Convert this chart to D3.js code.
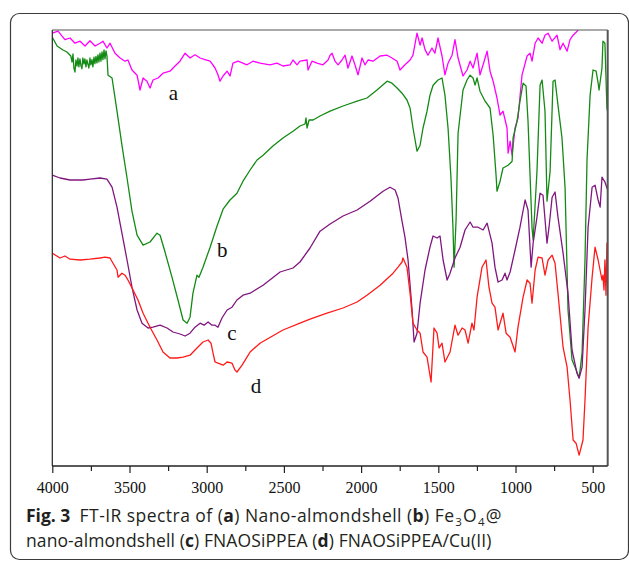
<!DOCTYPE html>
<html>
<head>
<meta charset="utf-8">
<script src="https://cdn.jsdelivr.net/npm/d3@7"></script>
<style>
  html, body { margin: 0; padding: 0; background: #fff; }
  svg { display: block; }
</style>
</head>
<body>
<svg id="chart" width="629" height="561"></svg>
<script>
// FT-IR spectra, wavenumber (cm^-1) vs. transmittance (arbitrary units, offset traces)
const xTicks = [4000, 3500, 3000, 2500, 2000, 1500, 1000, 500];
const xMinorTicks = [3750, 3250, 2750, 2250, 1750, 1250, 750];

// (a) Nano-almondshell
const seriesA = [
  [4000,108.2],[3963,108.7],[3918,106.6],[3885,107],[3853,105.7],[3820,106.2],[3788,105],[3756,106.3],
  [3723,105],[3691,105.7],[3672,106.2],[3646,104.5],[3626,105.7],[3594,103.2],[3561,102],[3529,101.2],
  [3510,101.5],[3484,99],[3451,97.7],[3432,94],[3412,97],[3387,96.2],[3367,94.5],[3348,96.5],[3315,97],
  [3283,98.2],[3238,98.7],[3205,100],[3173,101.2],[3140,103.2],[3108,102],[3076,102.8],[3043,102],
  [3011,101.6],[2978,101.2],[2946,99.5],[2927,97.8],[2914,96.2],[2894,97.5],[2868,98.7],[2849,97.5],
  [2830,100.7],[2797,101.2],[2739,100.3],[2700,101.2],[2655,100.7],[2590,100.3],[2545,100.7],[2506,100],
  [2460,100.3],[2441,101.5],[2415,100.3],[2396,101.2],[2350,101.5],[2344,99],[2318,101.2],[2286,100.7],
  [2247,100.3],[2214,101.5],[2201,102.7],[2188,103.2],[2169,101.2],[2149,100.3],[2124,101.5],[2104,102.7],
  [2085,99.5],[2059,102.5],[2040,100.3],[2020,97.8],[1994,102],[1975,100.3],[1955,101.5],[1923,101.2],
  [1877,102.5],[1832,102.7],[1800,102],[1767,101.2],[1748,99],[1716,100.3],[1683,101.5],[1664,102.7],
  [1638,108.2],[1618,105.2],[1605,107],[1586,104.1],[1567,102.7],[1541,104.5],[1522,103.2],[1502,107],
  [1476,102.5],[1457,97.8],[1437,100.7],[1411,102.7],[1392,106.6],[1372,102],[1340,97.5],[1314,99],
  [1294,101.2],[1275,99.5],[1249,103.2],[1230,97.8],[1210,100.3],[1184,103.7],[1165,98.7],[1145,96.2],
  [1120,92],[1100,87.7],[1081,88.7],[1055,84.5],[1048,78.2],[1035,81.2],[1022,77.7],[1003,84.5],
  [984,87],[958,97.7],[925,102.5],[906,103.2],[893,101.2],[873,105.7],[854,107],[828,105.7],[809,107.7],
  [789,108.2],[763,106.2],[731,107.7],[712,104.1],[692,105.7],[666,103.7],[647,106.6],[627,107.7],
  [601,108.7],[588,109.5]
];

// (b) Fe3O4@nano-almondshell
const seriesB = [
  [4000,107.2],[3969,105],[3931,104],[3905,103.5],[3885,102.7],
  [3880,102.5],[3872,101],[3866,103],[3860,99.5],[3853,98.5],[3847,101.5],[3840,100],[3834,102],
  [3828,99.8],[3821,101.8],[3815,100.2],[3808,99.3],[3802,102],[3795,100.5],[3789,101.8],[3782,99.8],
  [3776,101.5],[3769,100.4],[3763,99.5],[3756,102],[3750,100.3],[3743,101.6],[3737,99.8],[3730,102.2],
  [3724,100.6],[3717,102.4],[3711,100.8],[3704,102.8],[3698,101],[3691,103.2],[3685,101.2],[3678,103.5],
  [3672,101.6],[3665,104],[3659,101.8],[3652,103.8],[3646,102.5],[3639,97.7],[3613,97],
  [3581,88.7],[3549,80.2],[3516,72],[3484,63.7],[3451,57.7],[3412,55.2],[3367,56],[3322,58.2],
  [3302,57.7],[3270,53.5],[3225,47.2],[3186,41.5],[3153,36.5],[3127,35.7],[3108,37.2],[3089,43.2],
  [3063,47.7],[3050,47.2],[3024,49.7],[2978,54.7],[2933,60],[2894,64.2],[2849,66.5],[2804,68.2],
  [2765,71.2],[2719,74],[2674,76.5],[2635,77.7],[2571,80],[2506,82],[2441,83.7],[2396,85],[2363,85.5],
  [2357,87],[2350,84.5],[2337,86.5],[2311,86.5],[2266,87.5],[2201,88.7],[2117,90],[2026,91.2],[1962,92],
  [1897,94],[1832,96.2],[1800,95.7],[1767,94.5],[1735,93.2],[1703,91.5],[1683,89.5],[1664,84.5],
  [1638,78.7],[1618,80.2],[1599,84.5],[1573,88.7],[1554,92.7],[1534,95.2],[1502,96.5],[1476,97],
  [1457,92.7],[1437,84.5],[1418,72],[1405,59.5],[1398,49.7],[1385,61.5],[1372,83.2],[1340,94],
  [1314,96.5],[1294,97.7],[1275,97],[1262,95.2],[1249,97],[1230,93.7],[1197,91.2],[1165,89.5],
  [1145,82.7],[1126,72.7],[1120,68.7],[1100,71.2],[1081,74.5],[1048,75.2],[1022,76.2],[1016,82],
  [990,86.2],[971,91.2],[951,95.7],[932,95],[919,86.2],[893,59.5],[886,56.5],[861,73.7],[841,95.2],
  [828,96.5],[809,88.7],[796,66.2],[776,73.7],[757,96.2],[744,96.5],[725,90.2],[699,82],[679,69.5],
  [660,39],[634,26.5],[614,24.7],[588,22],[569,28.2],[550,51.5],[537,76.5],[517,92.7],[498,99],
  [478,98.7],[465,95.7],[459,94],[440,99.5],[434,106.2],[421,105.7],[408,89.5],[403,88.5]
];

// (c) FNAOSiPPEA
const seriesC = [
  [4000,72.7],[3950,72],[3885,71.5],[3801,71.5],[3756,71.7],[3691,72],[3646,71.7],[3613,69.7],
  [3581,64.7],[3549,58.2],[3516,51.5],[3484,44.7],[3451,39],[3419,35.7],[3380,34.5],[3348,34.7],
  [3302,35.2],[3257,34.5],[3218,33.5],[3173,33],[3140,32.5],[3108,33.2],[3076,34.7],[3043,35.7],
  [3017,35.2],[2991,36],[2966,35.2],[2946,35.2],[2927,34.7],[2901,37],[2868,39],[2836,39.7],
  [2804,41.5],[2765,42.7],[2719,43.2],[2635,45.2],[2525,48.5],[2441,49.5],[2396,51],[2331,54.5],
  [2266,58.7],[2201,60.5],[2117,62.5],[2026,64],[1942,66.2],[1858,68.7],[1813,69.7],[1780,69],
  [1761,67],[1735,61.2],[1716,57.2],[1696,51.5],[1670,39],[1657,31],[1638,33.2],[1618,40.7],
  [1586,49],[1554,54.7],[1534,57.5],[1508,57],[1489,57.5],[1469,51.5],[1443,46.5],[1424,48.2],
  [1392,52],[1359,54.7],[1327,59],[1294,61],[1275,59.7],[1243,59.7],[1210,59],[1184,60.7],
  [1152,55.7],[1133,49.7],[1113,46],[1087,46.5],[1068,48.2],[1055,46.5],[1035,48.5],[1003,54],
  [971,59.7],[938,66.5],[919,64],[899,49.7],[886,55.7],[861,62.2],[841,68.2],[822,67.7],[796,55.7],
  [783,59.7],[763,67.2],[744,68.5],[725,62.2],[692,53.2],[660,43.2],[634,29],[602,23.2],[588,22],
  [569,24.7],[550,39],[530,59.7],[504,69.7],[485,70.2],[465,66.5],[452,64.7],[440,72.2],[421,71],
  [403,69]
];

// (d) FNAOSiPPEA/Cu(II)
const seriesD = [
  [4000,53.2],[3950,52],[3918,52.5],[3885,51.7],[3820,51.5],[3756,51.7],[3691,52],[3659,52.2],
  [3626,52],[3607,50.7],[3581,49],[3574,47.2],[3549,48.2],[3529,47.7],[3510,46.5],[3477,44],
  [3445,41.5],[3412,38.2],[3367,34.7],[3322,31.5],[3283,28.5],[3238,27],[3192,27],[3153,27.2],
  [3108,27.7],[3063,29.5],[3024,31],[2991,31.5],[2972,30.7],[2959,28.2],[2946,26],[2927,25.7],
  [2894,25.2],[2868,26],[2836,25.7],[2817,24],[2804,23.5],[2771,25.2],[2739,27.2],[2719,28.5],
  [2655,30.7],[2506,34],[2396,35.7],[2331,36.7],[2221,38.2],[2117,39.5],[2026,41],[1962,42.7],
  [1877,45.2],[1793,48.2],[1761,49.7],[1735,51],[1729,52],[1703,49.7],[1683,43.2],[1664,35.7],
  [1638,34],[1618,33.2],[1599,28.5],[1573,27.2],[1547,21],[1528,34.5],[1508,33.2],[1495,29.5],
  [1476,30.7],[1457,26],[1424,28.5],[1392,35.2],[1372,32.7],[1346,34.5],[1327,34],[1307,30.7],
  [1282,35.7],[1269,34],[1249,42.2],[1217,49.7],[1191,51.5],[1172,44.7],[1152,40.7],[1133,39.7],
  [1113,34],[1081,38.2],[1061,33.2],[1035,32.2],[1003,28.5],[984,34.7],[951,42.2],[925,46.5],
  [906,45.7],[893,40.7],[873,49],[854,52.2],[828,52],[809,47.7],[789,51.5],[763,52.7],[744,50.7],
  [725,43.2],[692,29.7],[666,24.7],[647,16.5],[627,6.5],[608,5.7],[588,2.7],[563,6.5],[550,16.5],
  [530,34.7],[504,47.2],[485,54.7],[465,51.5],[440,46.5],[434,47.7],[427,44],[421,51.5],[414,42.7],
  [408,55.7],[403,44]
];

const series = [
  { key: "a", data: seriesA, color: "#ff00ff" },
  { key: "b", data: seriesB, color: "#138a13" },
  { key: "c", data: seriesC, color: "#80167f" },
  { key: "d", data: seriesD, color: "#ff1a1a" }
];

// Letter tags placed beside each trace: [wavenumber, transmittance]
const curveLabels = [
  { text: "a", at: [3215, 91.5] },
  { text: "b", at: [2900, 52.2] },
  { text: "c", at: [2836, 31.5] },
  { text: "d", at: [2680, 18.2] }
];

const svg = d3.select("#chart");
const W = 629, H = 561;
const plot = { left: 52.3, right: 607.7, top: 30, bottom: 466 };
const serif = "'Liberation Serif', 'Times New Roman', serif";

svg.append("rect").attr("width", W).attr("height", H).attr("fill", "#fff");

// rounded outer frame of the figure panel
svg.append("rect")
  .attr("x", 10.5).attr("y", 13.5)
  .attr("width", 618).attr("height", 546)
  .attr("rx", 9).attr("ry", 9)
  .attr("fill", "none")
  .attr("stroke", "#3c3c3c")
  .attr("stroke-width", 1.2);

const x = d3.scaleLinear().domain([4000, 403]).range([plot.left, plot.right]);
const y = d3.scaleLinear().domain([0, 109]).range([plot.bottom, plot.top]);

svg.append("clipPath").attr("id", "plotClip")
  .append("rect")
  .attr("x", plot.left).attr("y", plot.top)
  .attr("width", plot.right - plot.left).attr("height", plot.bottom - plot.top);

const line = d3.line().x(d => x(d[0])).y(d => y(d[1]));

const traces = svg.append("g").attr("clip-path", "url(#plotClip)");
traces.selectAll("path")
  .data(series)
  .join("path")
  .attr("d", d => line(d.data))
  .attr("fill", "none")
  .attr("stroke", d => d.color)
  .attr("stroke-width", 1.3)
  .attr("stroke-linejoin", "round");

// plot box: top and right edges
svg.append("line")
  .attr("x1", plot.left).attr("x2", plot.right)
  .attr("y1", plot.top).attr("y2", plot.top)
  .attr("stroke", "#555").attr("stroke-width", 1.2);
svg.append("line")
  .attr("x1", plot.right).attr("x2", plot.right)
  .attr("y1", plot.top).attr("y2", plot.bottom)
  .attr("stroke", "#555").attr("stroke-width", 2);
// left axis
svg.append("line")
  .attr("x1", plot.left).attr("x2", plot.left)
  .attr("y1", plot.top).attr("y2", plot.bottom)
  .attr("stroke", "#222").attr("stroke-width", 1.2);

// bottom axis, major and minor ticks
const xAxis = d3.axisBottom(x)
  .tickValues(xTicks)
  .tickFormat(d3.format("d"))
  .tickSize(7).tickSizeOuter(0).tickPadding(9);
const gx = svg.append("g").attr("transform", `translate(0,${plot.bottom})`).call(xAxis);
gx.attr("font-family", null).attr("font-size", null);
gx.select(".domain").attr("stroke", "#222").attr("stroke-width", 1.5)
  .attr("d", `M${plot.left},0H${plot.right}`);
gx.selectAll(".tick line").attr("stroke", "#222").attr("stroke-width", 1.2);
gx.selectAll(".tick text")
  .style("font-family", serif)
  .style("font-size", "16px")
  .attr("fill", "#111");

const minor = d3.axisBottom(x).tickValues(xMinorTicks).tickSize(5).tickFormat("");
const gm = svg.append("g").attr("transform", `translate(0,${plot.bottom})`).call(minor);
gm.select(".domain").remove();
gm.selectAll(".tick line").attr("stroke", "#222").attr("stroke-width", 1.2);

// letter tags on the traces
svg.append("g").selectAll("text")
  .data(curveLabels)
  .join("text")
  .attr("x", d => x(d.at[0]))
  .attr("y", d => y(d.at[1]))
  .attr("text-anchor", "middle")
  .style("font-family", serif)
  .style("font-size", "21px")
  .attr("fill", "#111")
  .text(d => d.text);

// figure caption
const cap = svg.append("g")
  .style("font-family", "'Open Sans', 'Noto Sans', sans-serif")
  .style("font-size", "17.5px")
  .attr("fill", "#231f20");

const line1 = cap.append("text").attr("x", 26).attr("y", 522).style("letter-spacing", "0.45px");
line1.append("tspan").attr("font-weight", "bold").style("letter-spacing", "0px").text("Fig. 3");
line1.append("tspan").text("\u2002FT-IR spectra of (");
line1.append("tspan").attr("font-weight", "bold").text("a");
line1.append("tspan").text(") Nano-almondshell (");
line1.append("tspan").attr("font-weight", "bold").text("b");
line1.append("tspan").text(") Fe");
line1.append("tspan").style("font-size", "11.5px").attr("dx", 0.8).attr("dy", 4).text("3");
line1.append("tspan").attr("dx", 0.8).attr("dy", -4).text("O");
line1.append("tspan").style("font-size", "11.5px").attr("dx", 0.8).attr("dy", 4).text("4");
line1.append("tspan").attr("dx", 0.8).attr("dy", -4).text("@");

const line2 = cap.append("text").attr("x", 26).attr("y", 547).style("letter-spacing", "0.1px");
line2.append("tspan").text("nano-almondshell (");
line2.append("tspan").attr("font-weight", "bold").text("c");
line2.append("tspan").text(") FNAOSiPPEA (");
line2.append("tspan").attr("font-weight", "bold").text("d");
line2.append("tspan").text(") FNAOSiPPEA/Cu(II)");
</script>
</body>
</html>
